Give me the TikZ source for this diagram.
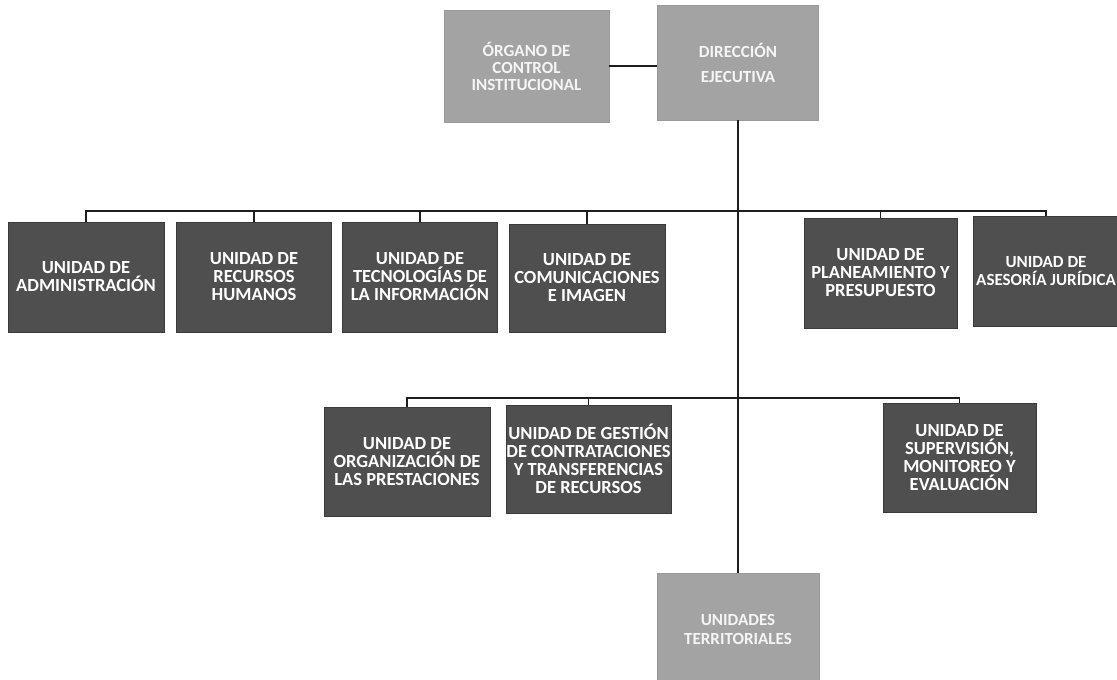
\documentclass[tikz,border=0pt]{standalone}
\usepackage{fontspec}
\setmainfont{Carlito}
\definecolor{lightbox}{HTML}{A3A3A3}
\definecolor{darkbox}{HTML}{4F4F4F}
\definecolor{darkedge}{HTML}{3A3A3A}
\definecolor{lightedge}{HTML}{9A9A9A}
\definecolor{linec}{HTML}{1E1E1E}
\begin{document}
\begin{tikzpicture}[x=1pt,y=1pt,
  dbox/.style={draw=darkedge, line width=0.8pt, fill=darkbox, text=white, align=center,
    inner sep=0pt, font=\fontsize{18.5}{18}\selectfont\bfseries},
  lbox/.style={draw=lightedge, line width=0.5pt, fill=lightbox, text=white!96!black, align=center,
    inner sep=0pt, font=\fontsize{17}{17}\selectfont\bfseries},
  conn/.style={draw=linec, line width=1.1pt},
  mainconn/.style={draw=linec, line width=1.6pt}]
\useasboundingbox (0,0) rectangle (1117,-680);
\fill[white] (0,0) rectangle (1117,-680);
% top
\node[lbox, minimum width=165, minimum height=112] (org) at (526.5,-66) {ÓRGANO DE\\CONTROL\\INSTITUCIONAL};
\node[lbox, minimum width=161, minimum height=115, font=\fontsize{17}{25}\selectfont\bfseries] (dir) at (738,-62.5) {DIRECCIÓN\\EJECUTIVA};
% row 1
\node[dbox, minimum width=156, minimum height=110] (adm) at (86,-277) {UNIDAD DE\\ADMINISTRACIÓN};
\node[dbox, minimum width=155, minimum height=110] (rrhh) at (254,-277) {UNIDAD DE\\RECURSOS\\HUMANOS};
\node[dbox, minimum width=155, minimum height=110] (tec) at (420,-277) {UNIDAD DE\\TECNOLOGÍAS DE\\LA INFORMACIÓN};
\node[dbox, minimum width=156, minimum height=108] (com) at (587,-278) {UNIDAD DE\\COMUNICACIONES\\E IMAGEN};
\node[dbox, minimum width=153, minimum height=110] (pla) at (880.5,-273) {UNIDAD DE\\PLANEAMIENTO Y\\PRESUPUESTO};
\node[dbox, minimum width=146, minimum height=110, font=\fontsize{17}{18}\selectfont\bfseries] (ase) at (1046,-271) {UNIDAD DE\\ASESORÍA JURÍDICA};
% row 2
\node[dbox, minimum width=166, minimum height=109] (orgp) at (407,-461.5) {UNIDAD DE\\ORGANIZACIÓN DE\\LAS PRESTACIONES};
\node[dbox, minimum width=165, minimum height=108] (ges) at (588.5,-459) {UNIDAD DE GESTIÓN\\DE CONTRATACIONES\\Y TRANSFERENCIAS\\DE RECURSOS};
\node[dbox, minimum width=153, minimum height=109] (sup) at (959.5,-457.5) {UNIDAD DE\\SUPERVISIÓN,\\MONITOREO Y\\EVALUACIÓN};
% bottom
\node[lbox, minimum width=162, minimum height=112, font=\fontsize{17}{19}\selectfont\bfseries] (ter) at (738,-629) {UNIDADES\\TERRITORIALES};
% connectors
\coordinate (bus1) at (738,-211);
\coordinate (bus2) at (738,-398);
\draw[conn] (org.east) -- (org.east -| dir.west);
\draw[mainconn] (dir.south) -- (ter.north);
\foreach \n in {adm,rrhh,tec,com,pla,ase} \draw[conn] (\n.north) |- (bus1);
\foreach \n in {orgp,ges,sup} \draw[conn] (\n.north) |- (bus2);
\end{tikzpicture}
\end{document}
